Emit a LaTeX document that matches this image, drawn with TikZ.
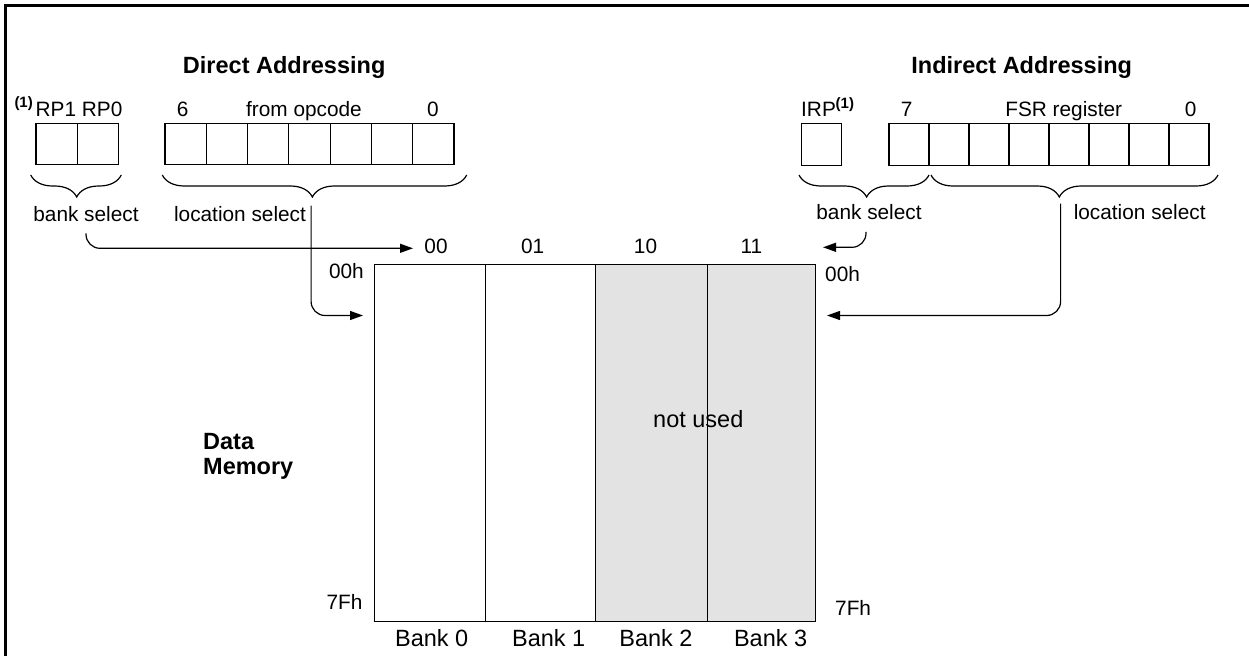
\documentclass[tikz,border=0pt]{standalone}
\usepackage{fontspec}
\setmainfont{Liberation Sans}
\usetikzlibrary{arrows.meta,decorations.pathreplacing}
\newcommand\fsz[1]{\fontsize{#1}{#1}\selectfont}
\definecolor{usedgray}{HTML}{E3E3E3}

\begin{document}
\begin{tikzpicture}[x=1pt,y=-1pt,
  lbl/.style={inner sep=0pt,anchor=base,font=\fsz{20.8}},
  big/.style={inner sep=0pt,anchor=base,font=\fsz{23.5}},
  heading/.style={inner sep=0pt,anchor=base,font=\fsz{23.5}\bfseries},
  note/.style={inner sep=0pt,anchor=base west,font=\fsz{15}\bfseries},
  cell/.style={draw,line width=1.2pt,minimum height=41.5pt,inner sep=0pt,anchor=north west},
  bank/.style={draw,line width=1.2pt,minimum height=357pt,inner sep=0pt,anchor=north west},
  conn/.style={line width=1.2pt,rounded corners=14pt,-{Triangle[length=13pt,width=9pt]}},
  grp/.style={line width=1.2pt,decorate,decoration={brace,mirror,amplitude=22pt,#1}},
]
\useasboundingbox (0,0) rectangle (1249,656);

% outer frame (top and left edges)
\draw[line width=2.5pt] (1249,5.5) -- (5.5,5.5) -- (5.5,656);

% headings
\node[heading] (hdir) at (284.2,73.5) {Direct Addressing};
\node[heading] (hind) at (1021.7,73.5) {Indirect Addressing};

% direct addressing register
\node[note] (n1l) at (14.3,107) {(1)};
\node[lbl,anchor=base west] (rp) at (35.5,116) {RP1 RP0};
\node[lbl] (d6) at (182.7,116) {6};
\node[lbl] (fop) at (304,116) {from opcode};
\node[lbl] (d0) at (433,116) {0};
\node[cell,minimum width=41.4pt] (rp1) at (35.3,122.5) {};
\node[cell,minimum width=41.4pt] (rp0) at (76.7,122.5) {};
\foreach \i in {0,...,6}
  \node[cell,minimum width=41.3pt] (op\i) at ({164.3+41.3*\i},122.5) {};

% indirect addressing register
\node[lbl,anchor=base west] (irpl) at (801,116.5) {IRP};
\node[note] (n1r) at (835.5,108) {(1)};
\node[lbl] (i7) at (906.7,116) {7};
\node[lbl] (fsrl) at (1063.7,116.5) {FSR register};
\node[lbl] (i0) at (1190.7,116) {0};
\node[cell,minimum width=40pt] (irp) at (801,123) {};
\foreach \i in {0,...,7}
  \node[cell,minimum width=40pt] (fsr\i) at ({888.3+40*\i},123) {};

% braces
\draw[grp={aspect=0.508}] (30.7,175) -- (121.3,175);
\draw[grp={aspect=0.493}] (162.3,175) -- (466.7,175);
\draw[grp={aspect=0.52}] (799,175) -- (929,175);
\draw[grp={aspect=0.447}] (931,175) -- (1218,175);

\node[lbl] (bselL) at (86,221) {bank select};
\node[lbl] (locL) at (240,221) {location select};
\node[lbl] (bselR) at (869,219) {bank select};
\node[lbl] (locR) at (1139.7,219) {location select};

% data memory banks
\node[bank,minimum width=111pt] (b0) at (374,264) {};
\node[bank,minimum width=110pt] (b1) at (485,264) {};
\node[bank,fill=usedgray,minimum width=112pt] (b2) at (595,264) {};
\node[bank,fill=usedgray,minimum width=108pt] (b3) at (707,264) {};
\node[big] (nu) at (698.3,427.5) {not used};

\node[lbl] (c00) at (436,253) {00};
\node[lbl] (c01) at (532.6,253) {01};
\node[lbl] (c10) at (645.5,253) {10};
\node[lbl] (c11) at (751.5,253) {11};

\node[lbl,anchor=base east] (a0l) at (364,278) {00h};
\node[lbl,anchor=base east] (a7l) at (362.7,609) {7Fh};
\node[lbl,anchor=base west] (a0r) at (825,281) {00h};
\node[lbl,anchor=base west] (a7r) at (835,615) {7Fh};

\node[big] (bk0) at (431.7,646.7) {Bank 0};
\node[big] (bk1) at (548.7,646.7) {Bank 1};
\node[big] (bk2) at (655.9,646.7) {Bank 2};
\node[big] (bk3) at (770.6,646.7) {Bank 3};

\node[heading,anchor=base west] (dm1) at (203,449.3) {Data};
\node[heading,anchor=base west] (dm2) at (203,474.3) {Memory};

% connector end points at the memory
\coordinate (bk00) at (413,248.3);
\coordinate (bk11) at (823,247.3);
\coordinate (inL) at (363,315.5);
\coordinate (inR) at (827,315.5);

\draw[conn] ([yshift=-12pt]bselL.south) |- (bk00);
\draw[conn] ([xshift=5pt]locL.north east) |- (inL);
\draw[conn] ([xshift=-3pt,yshift=-12.5pt]bselR.south) |- (bk11);
\draw[conn] ([xshift=-13pt]locR.north west) |- (inR);
\end{tikzpicture}
\end{document}
